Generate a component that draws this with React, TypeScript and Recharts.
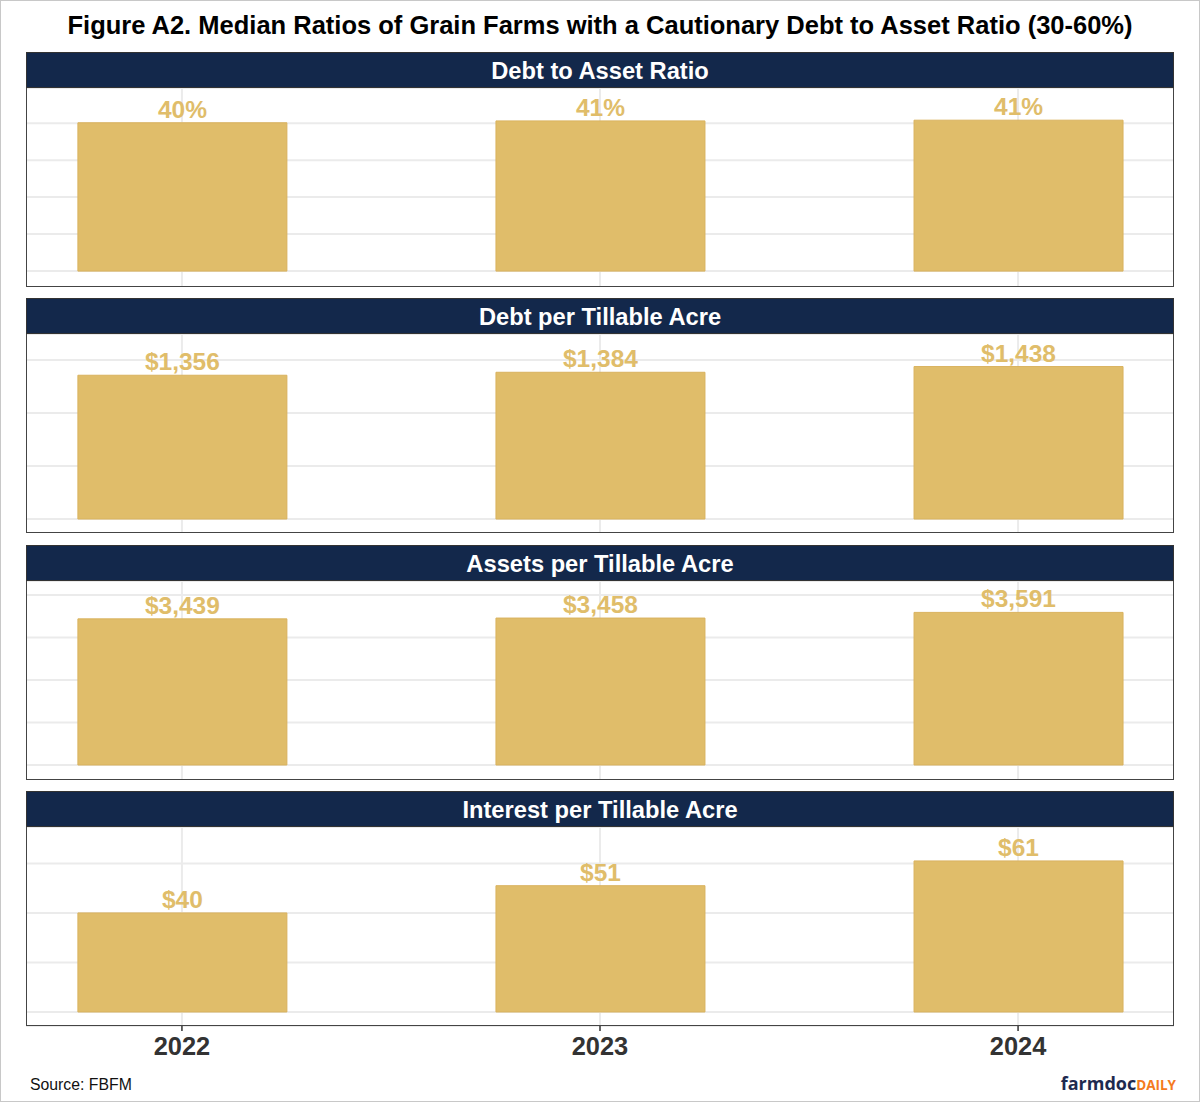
import React from 'react'
import { BarChart, Bar, XAxis, YAxis, CartesianGrid, LabelList } from 'recharts'

const years = [2022, 2023, 2024]

const debtToAsset = [0.401, 0.406, 0.408]
const debtPerAcre = [1356, 1384, 1438]
const assetsPerAcre = [3439, 3458, 3591]
const interestPerAcre = [40, 51, 61]

const panelTitles = [
  'Debt to Asset Ratio',
  'Debt per Tillable Acre',
  'Assets per Tillable Acre',
  'Interest per Tillable Acre',
]

const gridTicks = [
  [0, 0.1, 0.2, 0.3, 0.4],
  [0, 500, 1000, 1500],
  [0, 1000, 2000, 3000, 4000],
  [0, 20, 40, 60],
]

const domains: [number, number][] = [
  [-0.043, 0.495],
  [-132, 1745],
  [-353, 4330],
  [-5.66, 74.7],
]

const FONT = '"Liberation Sans", Arial, Helvetica, sans-serif'
const GOLD = '#E0BD6A'
const NAVY = '#13284B'

const pct = (v: number) => `${Math.round(v * 100)}%`
const dollars = (v: number) => `$${Math.round(v).toLocaleString('en-US')}`

const series = [
  { values: debtToAsset, fmt: pct },
  { values: debtPerAcre, fmt: dollars },
  { values: assetsPerAcre, fmt: dollars },
  { values: interestPerAcre, fmt: dollars },
]

const PANEL_X = 26
const PANEL_W = 1148
const STRIP_H = 36
const PLOT_H = 199
const panelTops = [52, 298, 545, 791]

function Panel({ idx }: { idx: number }) {
  const { values, fmt } = series[idx]
  const data = years.map((year, i) => ({ year, value: values[i] }))
  const last = idx === series.length - 1
  const axisH = last ? 46 : 0

  return (
    <div style={{ position: 'absolute', left: PANEL_X, top: panelTops[idx], width: PANEL_W }}>
      <div
        style={{
          height: STRIP_H,
          background: NAVY,
          color: '#fff',
          fontFamily: FONT,
          fontWeight: 700,
          fontSize: 23.7,
          lineHeight: `${STRIP_H}px`,
          textAlign: 'center',
          boxSizing: 'border-box',
          border: '1px solid #333',
        }}
      >
        {panelTitles[idx]}
      </div>
      <div style={{ position: 'relative', height: PLOT_H }}>
        <BarChart
          width={PANEL_W}
          height={PLOT_H + axisH}
          data={data}
          margin={{ top: 0, right: 0, bottom: 0, left: 0 }}
          style={{ position: 'absolute', left: 0, top: 0 }}
        >
          <CartesianGrid stroke="#EBEBEB" strokeWidth={2} />
          <XAxis
            dataKey="year"
            type="number"
            domain={[2021.627, 2024.373]}
            ticks={years}
            allowDataOverflow
            hide={!last}
            height={axisH}
            axisLine={false}
            tickLine={{ stroke: '#333', strokeWidth: 1.5 }}
            tickSize={5}
            tick={{ fontSize: 25.4, fontWeight: 700, fill: '#333', fontFamily: FONT, dy: 4 }}
          />
          <YAxis hide domain={domains[idx]} ticks={gridTicks[idx]} allowDataOverflow />
          <Bar
            dataKey="value"
            fill={GOLD}
            stroke="#D9B25E"
            strokeWidth={1}
            barSize={209}
            isAnimationActive={false}
          >
            <LabelList
              dataKey="value"
              position="top"
              offset={5}
              formatter={(v: any) => fmt(Number(v))}
              style={{ fontSize: 24.5, fontWeight: 700, fill: GOLD, fontFamily: FONT }}
            />
          </Bar>
        </BarChart>
        <div
          style={{
            position: 'absolute',
            left: 0,
            top: 0,
            width: PANEL_W,
            height: PLOT_H,
            boxSizing: 'border-box',
            border: '1.5px solid #444',
            borderTop: 'none',
            pointerEvents: 'none',
          }}
        />
      </div>
    </div>
  )
}

export default function App() {
  return (
    <div
      style={{
        position: 'absolute',
        left: 0,
        top: 0,
        width: 1200,
        height: 1102,
        background: '#fff',
        fontFamily: FONT,
      }}
    >
      <div
        style={{
          position: 'absolute',
          left: 0,
          top: 0,
          width: 1200,
          height: 1102,
          boxSizing: 'border-box',
          border: '1px solid #C8C8C8',
          pointerEvents: 'none',
        }}
      />
      <div
        style={{
          position: 'absolute',
          top: 11,
          left: 0,
          width: 1200,
          textAlign: 'center',
          fontSize: 25.5,
          fontWeight: 700,
          color: '#000',
        }}
      >
        Figure A2. Median Ratios of Grain Farms with a Cautionary Debt to Asset Ratio (30-60%)
      </div>
      {series.map((_, i) => (
        <Panel key={i} idx={i} />
      ))}
      <div style={{ position: 'absolute', left: 30, top: 1076, fontSize: 15.8, color: '#111' }}>
        Source: FBFM
      </div>
      <div
        style={{
          position: 'absolute',
          right: 24,
          top: 1071,
          fontSize: 18,
          fontWeight: 700,
          fontFamily: '"Open Sans", sans-serif',
        }}
      >
        <span style={{ color: '#1E2A4F' }}>farmdoc</span>
        <span style={{ color: '#F47A20', fontSize: 13.5 }}>DAILY</span>
      </div>
    </div>
  )
}
